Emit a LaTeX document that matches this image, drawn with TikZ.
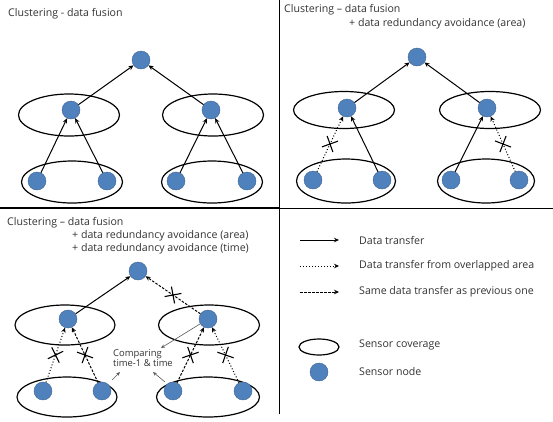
\documentclass[tikz,border=0pt]{standalone}
\usepackage{fontspec}
\setmainfont{Open Sans}
\usetikzlibrary{arrows.meta, positioning, shapes.geometric, shapes.misc}
\definecolor{nodeblue}{RGB}{79,129,189}
\definecolor{nodeedge}{RGB}{60,98,146}
\definecolor{txtgray}{RGB}{50,50,50}

\begin{document}
\begin{tikzpicture}[x=1pt, y=-1pt,
    sensor/.style={circle, fill=nodeblue, draw=nodeedge, thin, minimum size=18pt, inner sep=0pt},
    cover/.style={ellipse, draw, line width=1.2pt, minimum width=101pt, minimum height=42pt, inner sep=0pt},
    xfer/.style={line width=1pt, -{Stealth[length=5pt, width=4.5pt]}},
    olap/.style={line width=1pt, dotted, -{Stealth[length=5pt, width=4.5pt]}},
    dup/.style={line width=1pt, dash pattern=on 2.5pt off 1.5pt, -{Stealth[length=5pt, width=4.5pt]}},
    cut/.style={draw, solid, cross out, sloped, line width=1.1pt, minimum size=11pt, inner sep=0pt},
    ttl/.style={anchor=west, inner sep=0pt, text=txtgray, font=\fontsize{10.6}{12}\selectfont},
    hint/.style={black!65, line width=0.6pt, -{Stealth[length=4pt, width=3.5pt, open]}}]
    \useasboundingbox (0,0) rectangle (553,421);

    % frame
    \draw[line width=1.6pt] (0,208) -- (279,208);
    \draw[line width=0.8pt] (279,208) -- (553,208);
    \draw[line width=0.8pt] (279,0) -- (279,414);

    % panel 1
    \node[ttl] (p1) at (8,14) {Clustering - data fusion};
    \node[cover] (a1) at (69,115) {};
    \node[cover] (b1) at (213,115) {};
    \node[cover] (c1) at (72,182) {};
    \node[cover] (d1) at (212,182) {};
    \node[sensor] (t1) at (141,60) {};
    \node[sensor] (m1) at (71,110) {};
    \node[sensor] (n1) at (211,110) {};
    \node[sensor] (s11) at (37,181) {};
    \node[sensor] (s12) at (107,181) {};
    \node[sensor] (s13) at (176,181) {};
    \node[sensor] (s14) at (247,181) {};
    \draw[xfer] (m1) -- (t1);
    \draw[xfer] (n1) -- (t1);
    \draw[xfer] (s11) -- (m1);
    \draw[xfer] (s12) -- (m1);
    \draw[xfer] (s13) -- (n1);
    \draw[xfer] (s14) -- (n1);

    % panel 2
    \node[ttl] (p2) at (284,10) {Clustering -- data fusion};
    \node[ttl] (q2) at (349,24) {+ data redundancy avoidance (area)};
    \node[cover, minimum height=37pt] (a2) at (344,110) {};
    \node[cover, minimum height=37pt] (b2) at (490,110) {};
    \node[cover, minimum width=99pt, minimum height=44pt] (c2) at (346,181) {};
    \node[cover, minimum width=97pt, minimum height=44pt] (d2) at (486,181) {};
    \node[sensor] (t2) at (417,57) {};
    \node[sensor] (m2) at (347,108) {};
    \node[sensor] (n2) at (487,108) {};
    \node[sensor] (s21) at (313,180) {};
    \node[sensor] (s22) at (382,180) {};
    \node[sensor] (s23) at (451,180) {};
    \node[sensor] (s24) at (519,180) {};
    \draw[xfer] (m2) -- (t2);
    \draw[xfer] (n2) -- (t2);
    \draw[olap] (s21) -- node[cut] {} (m2);
    \draw[xfer] (s22) -- (m2);
    \draw[xfer] (s23) -- (n2);
    \draw[olap] (s24) -- node[cut] {} (n2);

    % panel 3
    \node[ttl] (p3) at (7,223) {Clustering -- data fusion};
    \node[ttl] (q3) at (72,236) {+ data redundancy avoidance (area)};
    \node[ttl] (r3) at (72,249) {+ data redundancy avoidance (time)};
    \node[cover, minimum width=100pt, minimum height=40pt] (a3) at (65,325) {};
    \node[cover, minimum height=40pt] (b3) at (209,325) {};
    \node[cover, minimum width=100pt, minimum height=40pt] (c3) at (67,397) {};
    \node[cover, minimum width=103pt, minimum height=40pt] (d3) at (208,397) {};
    \node[sensor] (t3) at (138,271) {};
    \node[sensor] (m3) at (68,319) {};
    \node[sensor] (n3) at (208,319) {};
    \node[sensor] (s31) at (43,391) {};
    \node[sensor] (s32) at (102,391) {};
    \node[sensor] (s33) at (173,391) {};
    \node[sensor] (s34) at (243,391) {};
    \draw[xfer] (m3) -- (t3);
    \draw[dup] (n3) -- node[cut] {} (t3);
    \draw[olap] (s31) -- node[cut] {} (m3);
    \draw[dup] (s32) -- node[cut] {} (m3);
    \draw[dup] (s33) -- node[cut] {} (n3);
    \draw[olap] (s34) -- node[cut] {} (n3);
    \node[ttl, font=\fontsize{9.4}{10.5}\selectfont, align=left, anchor=north west] (cmp) at (113,349) {Comparing\\time-1 \& time};
    \coordinate (e0) at (161,348);
    \coordinate (e1) at (120,372);
    \coordinate (e2) at (153,372);
    \coordinate (f1) at (112,380);
    \coordinate (f2) at (165,382);
    \draw[hint] (n3) -- (e0);
    \draw[hint] (f1) -- (e1);
    \draw[hint] (f2) -- (e2);

    % legend
    \coordinate (l1) at (300,240);
    \coordinate (l2) at (300,266);
    \coordinate (l3) at (300,292);
    \coordinate (k1) at (339,240);
    \coordinate (k2) at (339,266);
    \coordinate (k3) at (339,292);
    \draw[xfer] (l1) -- (k1);
    \draw[olap] (l2) -- (k2);
    \draw[dup] (l3) -- (k3);
    \node[ttl] (g1) at (359,240) {Data transfer};
    \node[ttl] (g2) at (359,266) {Data transfer from overlapped area};
    \node[ttl] (g3) at (359,292) {Same data transfer as previous one};
    \node[cover, minimum width=40pt, minimum height=16pt] (lc) at (319,347) {};
    \node[sensor] (ls) at (319,372) {};
    \node[ttl] (g4) at (359,345) {Sensor coverage};
    \node[ttl] (g5) at (359,372) {Sensor node};
\end{tikzpicture}
\end{document}
